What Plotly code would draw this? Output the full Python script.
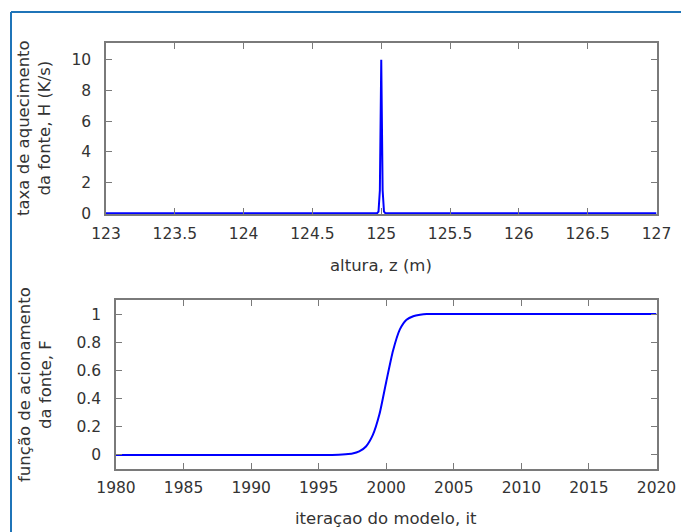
import plotly.graph_objects as go

# Heating-source profile H(z) around the source height
altura_z = [123.0, 124.95, 124.97, 124.98, 124.99, 125.0, 125.01, 125.02, 125.03, 125.05, 127.0]
taxa_H = [0.0, 0.0, 0.0, 0.1, 1.5, 10.0, 1.5, 0.1, 0.0, 0.0, 0.0]

# Source activation function F versus model iteration
iteracao = [1980, 1990, 1996, 1997, 1997.5, 1998, 1998.5, 1999, 1999.5, 2000,
            2000.5, 2001, 2001.5, 2002, 2002.5, 2003, 2005, 2020]
funcao_F = [0.0, 0.0, 0.0, 0.005, 0.01, 0.025, 0.06, 0.14, 0.29, 0.52,
            0.74, 0.89, 0.96, 0.985, 0.995, 1.0, 1.0, 1.0]

tick_z = [123, 123.5, 124, 124.5, 125, 125.5, 126, 126.5, 127]
tick_H = [0, 2, 4, 6, 8, 10]
tick_it = [1980, 1985, 1990, 1995, 2000, 2005, 2010, 2015, 2020]
tick_F = [0, 0.2, 0.4, 0.6, 0.8, 1]

W, H = 681, 532
FONT = "DejaVu Sans"
TXT = "#333333"
AX = "#7a7a7a"
FRAME = "#1f74b8"


def px_x(p):
    return p / W


def px_y(p):
    return 1 - p / H


fig = go.Figure()
fig.add_trace(go.Scatter(x=altura_z, y=taxa_H, mode="lines",
                         line=dict(color="#0000ff", width=2),
                         xaxis="x", yaxis="y", showlegend=False))
fig.add_trace(go.Scatter(x=iteracao, y=funcao_F, mode="lines",
                         line=dict(color="#0000ff", width=2, shape="spline", smoothing=0.6),
                         xaxis="x2", yaxis="y2", showlegend=False))

common = dict(showgrid=False, zeroline=False, showline=True, linecolor=AX,
              linewidth=1.5, mirror="allticks", ticks="inside", ticklen=6,
              tickcolor=AX, tickwidth=1, automargin=False,
              tickfont=dict(family=FONT, size=15.5, color=TXT))

fig.update_layout(
    template="none",
    width=W, height=H,
    margin=dict(l=0, r=0, t=0, b=0, pad=0),
    paper_bgcolor="white", plot_bgcolor="white",
    xaxis=dict(domain=[px_x(106), px_x(656.5)], range=[123, 127],
               tickvals=tick_z, anchor="y", ticklabelstandoff=5, **common),
    yaxis=dict(domain=[px_y(214), px_y(43)], range=[-0.05, 11.1],
               tickvals=tick_H, anchor="x", ticklabelstandoff=10, **common),
    xaxis2=dict(domain=[px_x(116), px_x(656.5)], range=[1980, 2020],
                tickvals=tick_it, anchor="y2", ticklabelstandoff=4, **common),
    yaxis2=dict(domain=[px_y(469), px_y(300)], range=[-0.1, 1.1],
                tickvals=tick_F, anchor="x2", ticklabelstandoff=10, **common),
)

title_font = dict(family=FONT, size=16.5, color=TXT)
fig.add_annotation(text="altura, z (m)", x=px_x(381), y=px_y(265),
                   xref="paper", yref="paper", showarrow=False,
                   xanchor="center", yanchor="middle", font=title_font)
fig.add_annotation(text="iteraçao do modelo, it", x=px_x(386), y=px_y(518),
                   xref="paper", yref="paper", showarrow=False,
                   xanchor="center", yanchor="middle", font=title_font)
fig.add_annotation(text="taxa de aquecimento<br>da fonte, H (K/s)",
                   x=px_x(34), y=px_y(128), xref="paper", yref="paper",
                   showarrow=False, textangle=-90, xanchor="center",
                   yanchor="middle", font=title_font)
fig.add_annotation(text="função de acionamento<br>da fonte, F",
                   x=px_x(35), y=px_y(385), xref="paper", yref="paper",
                   showarrow=False, textangle=-90, xanchor="center",
                   yanchor="middle", font=title_font)

# Surrounding frame (top and left edges)
fig.add_shape(type="line", xref="paper", yref="paper",
              x0=px_x(11), y0=px_y(12), x1=1.0, y1=px_y(12),
              line=dict(color=FRAME, width=2))
fig.add_shape(type="line", xref="paper", yref="paper",
              x0=px_x(11), y0=px_y(12), x1=px_x(11), y1=0.0,
              line=dict(color=FRAME, width=2))

fig.write_html("out.html")
